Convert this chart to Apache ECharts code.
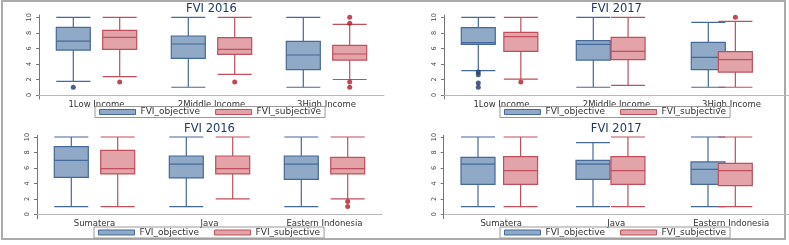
<!DOCTYPE html>
<html>
<head>
<meta charset="utf-8">
<script src="https://cdn.jsdelivr.net/npm/echarts@6/dist/echarts.min.js"></script>
<style>
  html, body { margin: 0; padding: 0; background: #fff; }
  #main { width: 789px; height: 245px; }
</style>
</head>
<body>
<div id="main"></div>
<script>
var incomeCats = ['1Low Income', '2Middle Income', '3High Income'];
var regionCats = ['Sumatera', 'Java', 'Eastern Indonesia'];
var yTicks = [0, 2, 4, 6, 8, 10];
var seriesNames = ['FVI_objective', 'FVI_subjective'];

// box values: [lower whisker, Q1, median, Q3, upper whisker]
var income2016Obj = [[1.76, 5.79, 6.95, 8.71, 10], [1.0, 4.72, 6.57, 7.6, 10], [1.0, 3.26, 5.15, 6.9, 10]];
var income2016Subj = [[2.36, 5.88, 7.42, 8.33, 10], [2.66, 5.24, 5.88, 7.38, 10], [2.0, 4.5, 5.28, 6.4, 9.1]];
var income2016ObjOut = [[0, 1.0]];
var income2016SubjOut = [[0, 1.67], [1, 1.67], [2, 10], [2, 9.23], [2, 1.68], [2, 1.0]];

var income2017Obj = [[3.13, 6.52, 6.74, 8.67, 10], [1.0, 4.5, 6.52, 7.0, 10], [1.0, 3.26, 4.85, 6.78, 9.36]];
var income2017Subj = [[2.06, 5.62, 7.51, 8.07, 10], [1.24, 4.55, 5.62, 7.42, 10], [1.0, 2.96, 4.55, 5.58, 9.48]];
var income2017ObjOut = [[0, 2.96], [0, 2.6], [0, 1.55], [0, 1.0]];
var income2017SubjOut = [[0, 1.67], [2, 10]];

var region2016Obj = [[1.0, 4.78, 6.98, 8.75, 10], [1.0, 4.7, 6.5, 7.54, 10], [1.0, 4.53, 6.5, 7.54, 10]];
var region2016Subj = [[1.0, 5.22, 5.9, 8.28, 10], [2.0, 5.22, 5.9, 7.54, 10], [2.0, 5.22, 5.9, 7.37, 10]];
var region2016ObjOut = [];
var region2016SubjOut = [[2, 1.64], [2, 1.0]];

var region2017Obj = [[1.0, 3.88, 6.5, 7.37, 10], [1.0, 4.53, 6.5, 6.98, 9.27], [1.0, 3.88, 5.82, 6.77, 10]];
var region2017Subj = [[1.0, 3.88, 5.65, 7.46, 10], [1.0, 3.88, 5.65, 7.46, 10], [1.0, 3.7, 5.65, 6.6, 10]];
var region2017ObjOut = [];
var region2017SubjOut = [];

var chartDom = document.getElementById('main');
var myChart = echarts.init(chartDom, null, { renderer: 'canvas' });

var objFill = '#8fa9c6', objLine = '#45699a', objDot = '#1c3768';
var subjFill = '#e2a3a9', subjLine = '#c04f5b', subjDot = '#b01c2c';
var font = '"DejaVu Sans", Verdana, sans-serif';

var panels = [
  { title: 'FVI 2016', cats: incomeCats, obj: income2016Obj, subj: income2016Subj, objOut: income2016ObjOut, subjOut: income2016SubjOut,
    left: 39, top: 15, height: 84, yMin: -0.51, yMax: 10.3, legLeft: 95, legTop: 106.5, titleTop: 3 },
  { title: 'FVI 2017', cats: incomeCats, obj: income2017Obj, subj: income2017Subj, objOut: income2017ObjOut, subjOut: income2017SubjOut,
    left: 444, top: 15, height: 84, yMin: -0.51, yMax: 10.3, legLeft: 500, legTop: 106.5, titleTop: 3 },
  { title: 'FVI 2016', cats: regionCats, obj: region2016Obj, subj: region2016Subj, objOut: region2016ObjOut, subjOut: region2016SubjOut,
    left: 37, top: 135.3, height: 83.4, yMin: -0.57, yMax: 10.22, legLeft: 94, legTop: 227, titleTop: 123 },
  { title: 'FVI 2017', cats: regionCats, obj: region2017Obj, subj: region2017Subj, objOut: region2017ObjOut, subjOut: region2017SubjOut,
    left: 443.7, top: 135.3, height: 83.4, yMin: -0.57, yMax: 10.22, legLeft: 500, legTop: 227, titleTop: 123 }
];

var plotWidth = 345;
var shift = 23.2;

var grid = [], xAxis = [], yAxis = [], series = [], title = [], legend = [];

panels.forEach(function (p) {
  // visible frame grid, then one hidden grid per box series (shifted)
  var gi = grid.length;
  grid.push({ left: p.left, top: p.top, width: plotWidth, height: p.height });
  grid.push({ left: p.left - shift, top: p.top, width: plotWidth, height: p.height });
  grid.push({ left: p.left + shift, top: p.top, width: plotWidth, height: p.height });

  xAxis.push({
    gridIndex: gi, type: 'category', data: p.cats,
    axisLine: { lineStyle: { color: '#b8b8b8', width: 1 } },
    axisTick: { show: false },
    axisLabel: { color: '#333', fontSize: 8.5, fontFamily: font, margin: 1 },
    splitLine: { show: false }
  });
  yAxis.push({
    gridIndex: gi, type: 'value', min: p.yMin, max: p.yMax,
    axisLine: { show: true, lineStyle: { color: '#777', width: 1 } },
    axisTick: { show: true, length: 3, customValues: yTicks, lineStyle: { color: '#777' } },
    axisLabel: { customValues: yTicks, rotate: 90, fontSize: 6.5, color: '#444', fontFamily: font, margin: 6 },
    splitLine: { show: false }
  });
  [1, 2].forEach(function (k) {
    xAxis.push({ gridIndex: gi + k, type: 'category', data: p.cats, show: false });
    yAxis.push({ gridIndex: gi + k, type: 'value', min: p.yMin, max: p.yMax, show: false, splitLine: { show: false } });
  });

  series.push({
    name: seriesNames[0], type: 'boxplot', xAxisIndex: gi + 1, yAxisIndex: gi + 1,
    data: p.obj, boxWidth: [34, 34], silent: true,
    itemStyle: { color: objFill, borderColor: objLine, borderWidth: 1.2 }
  });
  series.push({
    name: seriesNames[1], type: 'boxplot', xAxisIndex: gi + 2, yAxisIndex: gi + 2,
    data: p.subj, boxWidth: [34, 34], silent: true,
    itemStyle: { color: subjFill, borderColor: subjLine, borderWidth: 1.2 }
  });
  series.push({
    type: 'scatter', xAxisIndex: gi + 1, yAxisIndex: gi + 1, data: p.objOut,
    symbolSize: 5, itemStyle: { color: objDot }, silent: true
  });
  series.push({
    type: 'scatter', xAxisIndex: gi + 2, yAxisIndex: gi + 2, data: p.subjOut,
    symbolSize: 5, itemStyle: { color: subjDot }, silent: true
  });

  title.push({
    text: p.title, left: p.left + plotWidth / 2, top: p.titleTop, textAlign: 'center', padding: 0,
    textStyle: { color: '#1f3a68', fontSize: 11.5, fontWeight: 'normal', fontFamily: font }
  });

  legend.push({
    left: p.legLeft, top: p.legTop, orient: 'horizontal',
    data: [
      { name: seriesNames[0], icon: 'rect', itemStyle: { color: objFill, borderColor: objLine, borderWidth: 1 } },
      { name: seriesNames[1], icon: 'rect', itemStyle: { color: subjFill, borderColor: subjLine, borderWidth: 1 } }
    ],
    itemWidth: 36, itemHeight: 5, itemGap: 15, padding: [1, 4, 1, 4],
    borderColor: '#999', borderWidth: 1, selectedMode: false,
    textStyle: { color: '#333', fontSize: 9, fontFamily: font, lineHeight: 8 }
  });
});

var option = {
  animation: false,
  backgroundColor: '#fff',
  title: title,
  legend: legend,
  grid: grid,
  xAxis: xAxis,
  yAxis: yAxis,
  series: series,
  graphic: [{
    type: 'rect', shape: { x: 2, y: 1, width: 783, height: 238 },
    style: { fill: 'none', stroke: '#aaa', lineWidth: 2 }, silent: true
  }]
};

option && myChart.setOption(option);
window.addEventListener('resize', function () { myChart.resize(); });
</script>
</body>
</html>
